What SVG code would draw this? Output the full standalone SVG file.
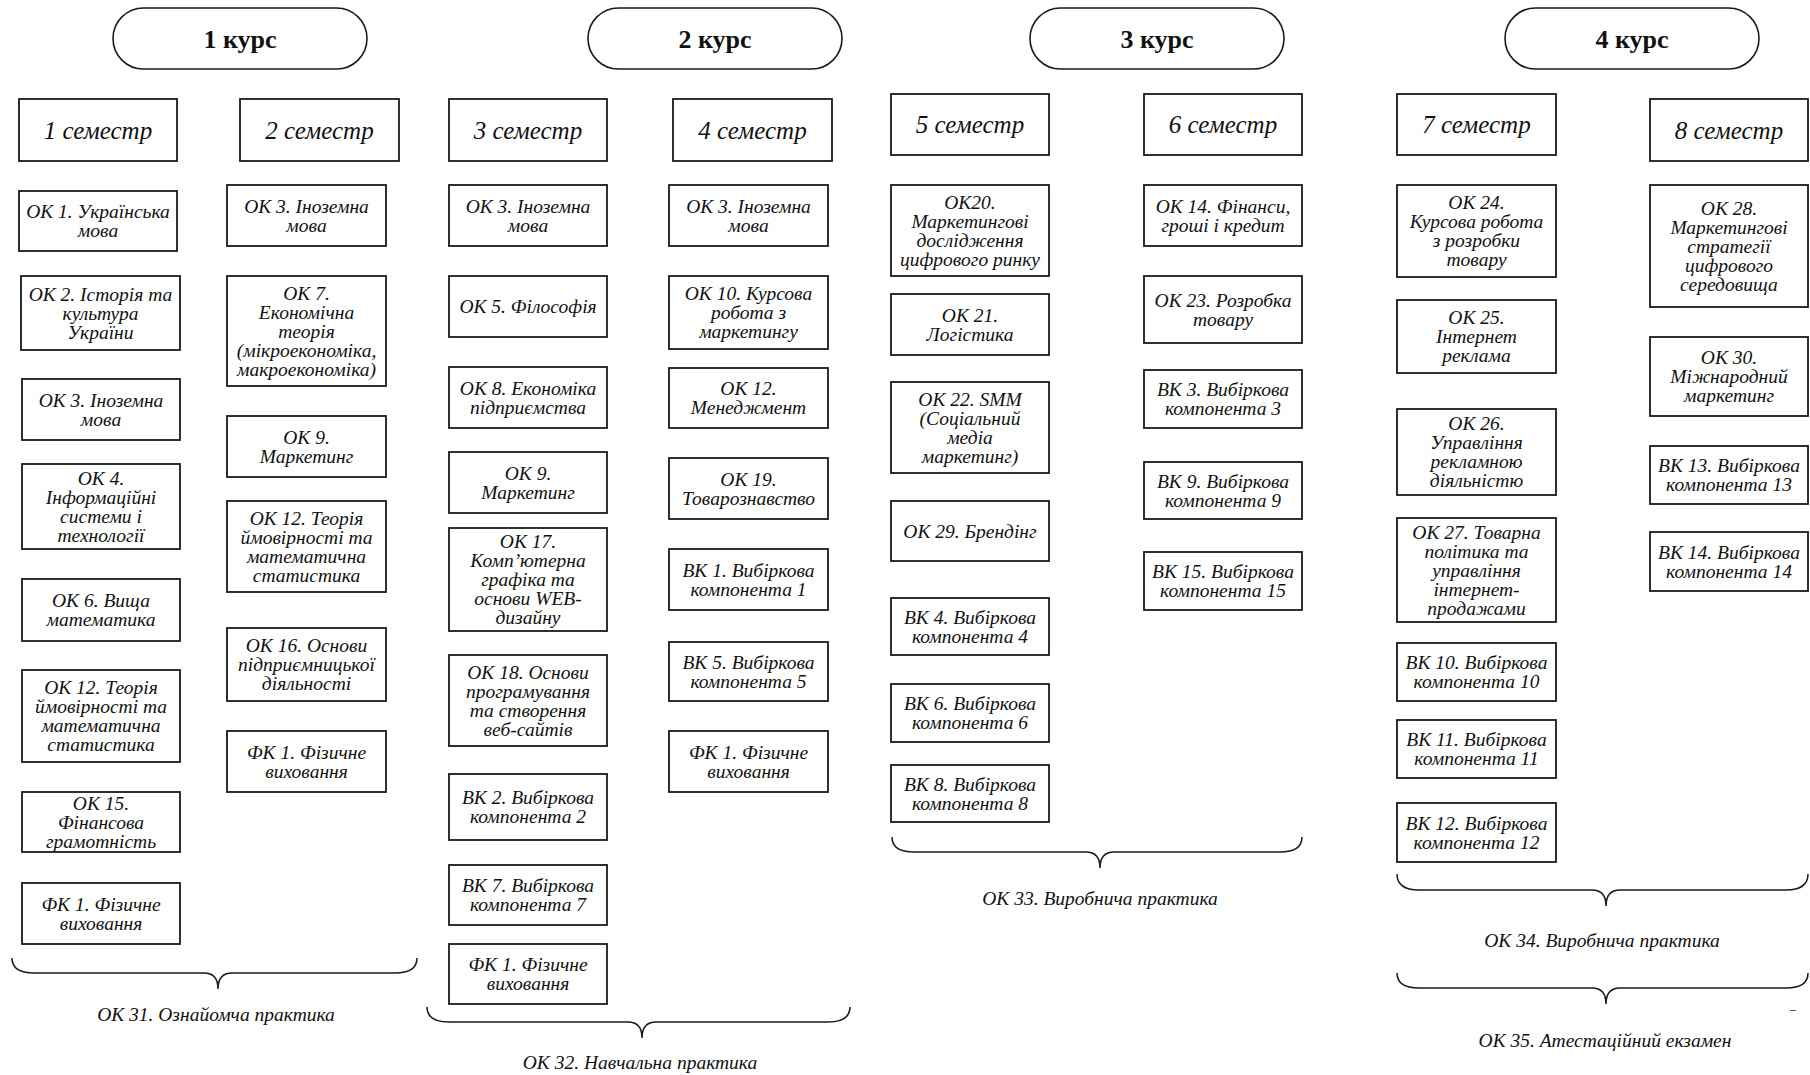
<svg xmlns="http://www.w3.org/2000/svg" width="1810" height="1075" viewBox="0 0 1810 1075">
<style>
.box{fill:#fff;stroke:#1a1a1a;stroke-width:1.8}
.pill{fill:#fff;stroke:#1a1a1a;stroke-width:1.6}
text{font-family:'Liberation Serif','Times New Roman',Tinos,'DejaVu Serif',serif}
.t{font-style:italic;font-size:19.5px;fill:#111;text-anchor:middle}
.h{font-size:25px}
.p{font-weight:bold;font-size:26px;fill:#111;text-anchor:middle}
.brace{fill:none;stroke:#1a1a1a;stroke-width:1.5}
.lbl{font-style:italic;font-size:19.5px;fill:#111;text-anchor:middle}
</style>
<rect width="1810" height="1075" fill="#fff"/>

<!-- Courses -->
<g id="kurs1"><rect class="pill" x="113" y="8" width="254" height="61" rx="30.5"/><text class="p" x="240" y="47.5">1 курс</text></g>
<g id="kurs2"><rect class="pill" x="588" y="8" width="254" height="61" rx="30.5"/><text class="p" x="715" y="47.5">2 курс</text></g>
<g id="kurs3"><rect class="pill" x="1030" y="8" width="254" height="61" rx="30.5"/><text class="p" x="1157" y="47.5">3 курс</text></g>
<g id="kurs4"><rect class="pill" x="1505" y="8" width="254" height="61" rx="30.5"/><text class="p" x="1632" y="47.5">4 курс</text></g>

<!-- Column 1 -->
<g id="sem1"><rect class="box" x="19" y="99" width="158" height="62"/><text class="t h" x="98" y="138.5">1 семестр</text></g>
<g id="s1-ok1"><rect class="box" x="19" y="191" width="158" height="60"/><text class="t" x="98" y="218"><tspan x="98" dy="0">ОК 1. Українська</tspan><tspan x="98" dy="19">мова</tspan></text></g>
<g id="s1-ok2"><rect class="box" x="21" y="276" width="159" height="74"/><text class="t" x="100.5" y="300.5"><tspan x="100.5" dy="0">ОК 2. Історія та</tspan><tspan x="100.5" dy="19">культура</tspan><tspan x="100.5" dy="19">України</tspan></text></g>
<g id="s1-ok3"><rect class="box" x="22" y="379" width="158" height="61"/><text class="t" x="101" y="406.5"><tspan x="101" dy="0">ОК 3. Іноземна</tspan><tspan x="101" dy="19">мова</tspan></text></g>
<g id="s1-ok4"><rect class="box" x="22" y="464" width="158" height="85"/><text class="t" x="101" y="484.5"><tspan x="101" dy="0">ОК 4.</tspan><tspan x="101" dy="19">Інформаційні</tspan><tspan x="101" dy="19">системи і</tspan><tspan x="101" dy="19">технології</tspan></text></g>
<g id="s1-ok6"><rect class="box" x="22" y="579" width="158" height="62"/><text class="t" x="101" y="607"><tspan x="101" dy="0">ОК 6. Вища</tspan><tspan x="101" dy="19">математика</tspan></text></g>
<g id="s1-ok12"><rect class="box" x="22" y="670" width="158" height="92"/><text class="t" x="101" y="694"><tspan x="101" dy="0">ОК 12. Теорія</tspan><tspan x="101" dy="19">ймовірності та</tspan><tspan x="101" dy="19">математична</tspan><tspan x="101" dy="19">статистика</tspan></text></g>
<g id="s1-ok15"><rect class="box" x="22" y="792" width="158" height="60"/><text class="t" x="101" y="809.5"><tspan x="101" dy="0">ОК 15.</tspan><tspan x="101" dy="19">Фінансова</tspan><tspan x="101" dy="19">грамотність</tspan></text></g>
<g id="s1-fk1"><rect class="box" x="22" y="883" width="158" height="61"/><text class="t" x="101" y="910.5"><tspan x="101" dy="0">ФК 1. Фізичне</tspan><tspan x="101" dy="19">виховання</tspan></text></g>

<!-- Column 2 -->
<g id="sem2"><rect class="box" x="240" y="99" width="159" height="62"/><text class="t h" x="319.5" y="138.5">2 семестр</text></g>
<g id="s2-ok3"><rect class="box" x="227" y="185" width="159" height="61"/><text class="t" x="306.5" y="212.5"><tspan x="306.5" dy="0">ОК 3. Іноземна</tspan><tspan x="306.5" dy="19">мова</tspan></text></g>
<g id="s2-ok7"><rect class="box" x="227" y="276" width="159" height="110"/><text class="t" x="306.5" y="299.5"><tspan x="306.5" dy="0">ОК 7.</tspan><tspan x="306.5" dy="19">Економічна</tspan><tspan x="306.5" dy="19">теорія</tspan><tspan x="306.5" dy="19">(мікроекономіка,</tspan><tspan x="306.5" dy="19">макроекономіка)</tspan></text></g>
<g id="s2-ok9"><rect class="box" x="227" y="416" width="159" height="61"/><text class="t" x="306.5" y="443.5"><tspan x="306.5" dy="0">ОК 9.</tspan><tspan x="306.5" dy="19">Маркетинг</tspan></text></g>
<g id="s2-ok12"><rect class="box" x="227" y="501" width="159" height="91"/><text class="t" x="306.5" y="524.5"><tspan x="306.5" dy="0">ОК 12. Теорія</tspan><tspan x="306.5" dy="19">ймовірності та</tspan><tspan x="306.5" dy="19">математична</tspan><tspan x="306.5" dy="19">статистика</tspan></text></g>
<g id="s2-ok16"><rect class="box" x="227" y="628" width="159" height="73"/><text class="t" x="306.5" y="652"><tspan x="306.5" dy="0">ОК 16. Основи</tspan><tspan x="306.5" dy="19">підприємницької</tspan><tspan x="306.5" dy="19">діяльності</tspan></text></g>
<g id="s2-fk1"><rect class="box" x="227" y="731" width="159" height="61"/><text class="t" x="306.5" y="758.5"><tspan x="306.5" dy="0">ФК 1. Фізичне</tspan><tspan x="306.5" dy="19">виховання</tspan></text></g>

<!-- Column 3 -->
<g id="sem3"><rect class="box" x="449" y="99" width="158" height="62"/><text class="t h" x="528" y="138.5">3 семестр</text></g>
<g id="s3-ok3"><rect class="box" x="449" y="185" width="158" height="61"/><text class="t" x="528" y="212.5"><tspan x="528" dy="0">ОК 3. Іноземна</tspan><tspan x="528" dy="19">мова</tspan></text></g>
<g id="s3-ok5"><rect class="box" x="449" y="276" width="158" height="61"/><text class="t" x="528" y="313">ОК 5. Філософія</text></g>
<g id="s3-ok8"><rect class="box" x="449" y="367" width="158" height="61"/><text class="t" x="528" y="394.5"><tspan x="528" dy="0">ОК 8. Економіка</tspan><tspan x="528" dy="19">підприємства</tspan></text></g>
<g id="s3-ok9"><rect class="box" x="449" y="452" width="158" height="61"/><text class="t" x="528" y="479.5"><tspan x="528" dy="0">ОК 9.</tspan><tspan x="528" dy="19">Маркетинг</tspan></text></g>
<g id="s3-ok17"><rect class="box" x="449" y="528" width="158" height="103"/><text class="t" x="528" y="548"><tspan x="528" dy="0">ОК 17.</tspan><tspan x="528" dy="19">Комп’ютерна</tspan><tspan x="528" dy="19">графіка та</tspan><tspan x="528" dy="19">основи WEB-</tspan><tspan x="528" dy="19">дизайну</tspan></text></g>
<g id="s3-ok18"><rect class="box" x="449" y="655" width="158" height="91"/><text class="t" x="528" y="678.5"><tspan x="528" dy="0">ОК 18. Основи</tspan><tspan x="528" dy="19">програмування</tspan><tspan x="528" dy="19">та створення</tspan><tspan x="528" dy="19">веб-сайтів</tspan></text></g>
<g id="s3-vk2"><rect class="box" x="449" y="774" width="158" height="66"/><text class="t" x="528" y="804"><tspan x="528" dy="0">ВК 2. Вибіркова</tspan><tspan x="528" dy="19">компонента 2</tspan></text></g>
<g id="s3-vk7"><rect class="box" x="449" y="865" width="158" height="60"/><text class="t" x="528" y="892"><tspan x="528" dy="0">ВК 7. Вибіркова</tspan><tspan x="528" dy="19">компонента 7</tspan></text></g>
<g id="s3-fk1"><rect class="box" x="449" y="944" width="158" height="60"/><text class="t" x="528" y="971"><tspan x="528" dy="0">ФК 1. Фізичне</tspan><tspan x="528" dy="19">виховання</tspan></text></g>

<!-- Column 4 -->
<g id="sem4"><rect class="box" x="673" y="99" width="159" height="62"/><text class="t h" x="752.5" y="138.5">4 семестр</text></g>
<g id="s4-ok3"><rect class="box" x="669" y="185" width="159" height="61"/><text class="t" x="748.5" y="212.5"><tspan x="748.5" dy="0">ОК 3. Іноземна</tspan><tspan x="748.5" dy="19">мова</tspan></text></g>
<g id="s4-ok10"><rect class="box" x="669" y="276" width="159" height="73"/><text class="t" x="748.5" y="300"><tspan x="748.5" dy="0">ОК 10. Курсова</tspan><tspan x="748.5" dy="19">робота з</tspan><tspan x="748.5" dy="19">маркетингу</tspan></text></g>
<g id="s4-ok12"><rect class="box" x="669" y="368" width="159" height="60"/><text class="t" x="748.5" y="395"><tspan x="748.5" dy="0">ОК 12.</tspan><tspan x="748.5" dy="19">Менеджмент</tspan></text></g>
<g id="s4-ok19"><rect class="box" x="669" y="458" width="159" height="61"/><text class="t" x="748.5" y="485.5"><tspan x="748.5" dy="0">ОК 19.</tspan><tspan x="748.5" dy="19">Товарознавство</tspan></text></g>
<g id="s4-vk1"><rect class="box" x="669" y="549" width="159" height="61"/><text class="t" x="748.5" y="576.5"><tspan x="748.5" dy="0">ВК 1. Вибіркова</tspan><tspan x="748.5" dy="19">компонента 1</tspan></text></g>
<g id="s4-vk5"><rect class="box" x="669" y="642" width="159" height="59"/><text class="t" x="748.5" y="668.5"><tspan x="748.5" dy="0">ВК 5. Вибіркова</tspan><tspan x="748.5" dy="19">компонента 5</tspan></text></g>
<g id="s4-fk1"><rect class="box" x="669" y="731" width="159" height="61"/><text class="t" x="748.5" y="758.5"><tspan x="748.5" dy="0">ФК 1. Фізичне</tspan><tspan x="748.5" dy="19">виховання</tspan></text></g>

<!-- Column 5 -->
<g id="sem5"><rect class="box" x="891" y="94" width="158" height="61"/><text class="t h" x="970" y="133">5 семестр</text></g>
<g id="s5-ok20"><rect class="box" x="891" y="185" width="158" height="91"/><text class="t" x="970" y="208.5"><tspan x="970" dy="0">ОК20.</tspan><tspan x="970" dy="19">Маркетингові</tspan><tspan x="970" dy="19">дослідження</tspan><tspan x="970" dy="19">цифрового ринку</tspan></text></g>
<g id="s5-ok21"><rect class="box" x="891" y="294" width="158" height="61"/><text class="t" x="970" y="321.5"><tspan x="970" dy="0">ОК 21.</tspan><tspan x="970" dy="19">Логістика</tspan></text></g>
<g id="s5-ok22"><rect class="box" x="891" y="382" width="158" height="91"/><text class="t" x="970" y="405.5"><tspan x="970" dy="0">ОК 22. SMM</tspan><tspan x="970" dy="19">(Соціальний</tspan><tspan x="970" dy="19">медіа</tspan><tspan x="970" dy="19">маркетинг)</tspan></text></g>
<g id="s5-ok29"><rect class="box" x="891" y="501" width="158" height="60"/><text class="t" x="970" y="537.5">ОК 29. Брендінг</text></g>
<g id="s5-vk4"><rect class="box" x="891" y="598" width="158" height="57"/><text class="t" x="970" y="623.5"><tspan x="970" dy="0">ВК 4. Вибіркова</tspan><tspan x="970" dy="19">компонента 4</tspan></text></g>
<g id="s5-vk6"><rect class="box" x="891" y="684" width="158" height="58"/><text class="t" x="970" y="710"><tspan x="970" dy="0">ВК 6. Вибіркова</tspan><tspan x="970" dy="19">компонента 6</tspan></text></g>
<g id="s5-vk8"><rect class="box" x="891" y="765" width="158" height="57"/><text class="t" x="970" y="790.5"><tspan x="970" dy="0">ВК 8. Вибіркова</tspan><tspan x="970" dy="19">компонента 8</tspan></text></g>

<!-- Column 6 -->
<g id="sem6"><rect class="box" x="1144" y="94" width="158" height="61"/><text class="t h" x="1223" y="133">6 семестр</text></g>
<g id="s6-ok14"><rect class="box" x="1144" y="185" width="158" height="61"/><text class="t" x="1223" y="212.5"><tspan x="1223" dy="0">ОК 14. Фінанси,</tspan><tspan x="1223" dy="19">гроші і кредит</tspan></text></g>
<g id="s6-ok23"><rect class="box" x="1144" y="276" width="158" height="67"/><text class="t" x="1223" y="306.5"><tspan x="1223" dy="0">ОК 23. Розробка</tspan><tspan x="1223" dy="19">товару</tspan></text></g>
<g id="s6-vk3"><rect class="box" x="1144" y="370" width="158" height="58"/><text class="t" x="1223" y="396"><tspan x="1223" dy="0">ВК 3. Вибіркова</tspan><tspan x="1223" dy="19">компонента 3</tspan></text></g>
<g id="s6-vk9"><rect class="box" x="1144" y="462" width="158" height="57"/><text class="t" x="1223" y="487.5"><tspan x="1223" dy="0">ВК 9. Вибіркова</tspan><tspan x="1223" dy="19">компонента 9</tspan></text></g>
<g id="s6-vk15"><rect class="box" x="1144" y="552" width="158" height="58"/><text class="t" x="1223" y="578"><tspan x="1223" dy="0">ВК 15. Вибіркова</tspan><tspan x="1223" dy="19">компонента 15</tspan></text></g>

<!-- Column 7 -->
<g id="sem7"><rect class="box" x="1397" y="94" width="159" height="61"/><text class="t h" x="1476.5" y="133">7 семестр</text></g>
<g id="s7-ok24"><rect class="box" x="1397" y="185" width="159" height="92"/><text class="t" x="1476.5" y="209"><tspan x="1476.5" dy="0">ОК 24.</tspan><tspan x="1476.5" dy="19">Курсова робота</tspan><tspan x="1476.5" dy="19">з розробки</tspan><tspan x="1476.5" dy="19">товару</tspan></text></g>
<g id="s7-ok25"><rect class="box" x="1397" y="300" width="159" height="73"/><text class="t" x="1476.5" y="324"><tspan x="1476.5" dy="0">ОК 25.</tspan><tspan x="1476.5" dy="19">Інтернет</tspan><tspan x="1476.5" dy="19">реклама</tspan></text></g>
<g id="s7-ok26"><rect class="box" x="1397" y="409" width="159" height="86"/><text class="t" x="1476.5" y="430"><tspan x="1476.5" dy="0">ОК 26.</tspan><tspan x="1476.5" dy="19">Управління</tspan><tspan x="1476.5" dy="19">рекламною</tspan><tspan x="1476.5" dy="19">діяльністю</tspan></text></g>
<g id="s7-ok27"><rect class="box" x="1397" y="518" width="159" height="104"/><text class="t" x="1476.5" y="538.5"><tspan x="1476.5" dy="0">ОК 27. Товарна</tspan><tspan x="1476.5" dy="19">політика та</tspan><tspan x="1476.5" dy="19">управління</tspan><tspan x="1476.5" dy="19">інтернет-</tspan><tspan x="1476.5" dy="19">продажами</tspan></text></g>
<g id="s7-vk10"><rect class="box" x="1397" y="643" width="159" height="58"/><text class="t" x="1476.5" y="669"><tspan x="1476.5" dy="0">ВК 10. Вибіркова</tspan><tspan x="1476.5" dy="19">компонента 10</tspan></text></g>
<g id="s7-vk11"><rect class="box" x="1397" y="720" width="159" height="58"/><text class="t" x="1476.5" y="746"><tspan x="1476.5" dy="0">ВК 11. Вибіркова</tspan><tspan x="1476.5" dy="19">компонента 11</tspan></text></g>
<g id="s7-vk12"><rect class="box" x="1397" y="803" width="159" height="59"/><text class="t" x="1476.5" y="829.5"><tspan x="1476.5" dy="0">ВК 12. Вибіркова</tspan><tspan x="1476.5" dy="19">компонента 12</tspan></text></g>

<!-- Column 8 -->
<g id="sem8"><rect class="box" x="1650" y="99" width="158" height="62"/><text class="t h" x="1729" y="138.5">8 семестр</text></g>
<g id="s8-ok28"><rect class="box" x="1650" y="185" width="158" height="122"/><text class="t" x="1729" y="214.5"><tspan x="1729" dy="0">ОК 28.</tspan><tspan x="1729" dy="19">Маркетингові</tspan><tspan x="1729" dy="19">стратегії</tspan><tspan x="1729" dy="19">цифрового</tspan><tspan x="1729" dy="19">середовища</tspan></text></g>
<g id="s8-ok30"><rect class="box" x="1650" y="337" width="158" height="79"/><text class="t" x="1729" y="364"><tspan x="1729" dy="0">ОК 30.</tspan><tspan x="1729" dy="19">Міжнародний</tspan><tspan x="1729" dy="19">маркетинг</tspan></text></g>
<g id="s8-vk13"><rect class="box" x="1650" y="446" width="158" height="58"/><text class="t" x="1729" y="472"><tspan x="1729" dy="0">ВК 13. Вибіркова</tspan><tspan x="1729" dy="19">компонента 13</tspan></text></g>
<g id="s8-vk14"><rect class="box" x="1650" y="532" width="158" height="59"/><text class="t" x="1729" y="558.5"><tspan x="1729" dy="0">ВК 14. Вибіркова</tspan><tspan x="1729" dy="19">компонента 14</tspan></text></g>

<!-- Braces (connectors) -->
<g id="connectors">
<path class="brace" d="M12,958 Q12,973 34,973 L204,973 Q218,973 218,989 Q218,973 232,973 L395,973 Q417,973 417,958"/>
<path class="brace" d="M427,1007 Q427,1022 449,1022 L628,1022 Q642,1022 642,1038 Q642,1022 656,1022 L828,1022 Q850,1022 850,1007"/>
<path class="brace" d="M892,837 Q892,852 914,852 L1086,852 Q1100,852 1100,868 Q1100,852 1114,852 L1280,852 Q1302,852 1302,837"/>
<path class="brace" d="M1397,874 Q1397,890 1419,890 L1592,890 Q1606,890 1606,906 Q1606,890 1620,890 L1786,890 Q1808,890 1808,874"/>
<path class="brace" d="M1397,973 Q1397,988 1419,988 L1592,988 Q1606,988 1606,1004 Q1606,988 1620,988 L1786,988 Q1808,988 1808,973"/>
</g>

<g id="labels">
<text class="lbl" x="216" y="1021">ОК 31. Ознайомча практика</text>
<text class="lbl" x="640" y="1069">ОК 32. Навчальна практика</text>
<text class="lbl" x="1100" y="905">ОК 33. Виробнича практика</text>
<text class="lbl" x="1602" y="947">ОК 34. Виробнича практика</text>
<text class="lbl" x="1605" y="1047">ОК 35. Атестаційний екзамен</text>
<text class="lbl" x="1793" y="1013" style="font-size:12px">–</text>
</g>
</svg>
